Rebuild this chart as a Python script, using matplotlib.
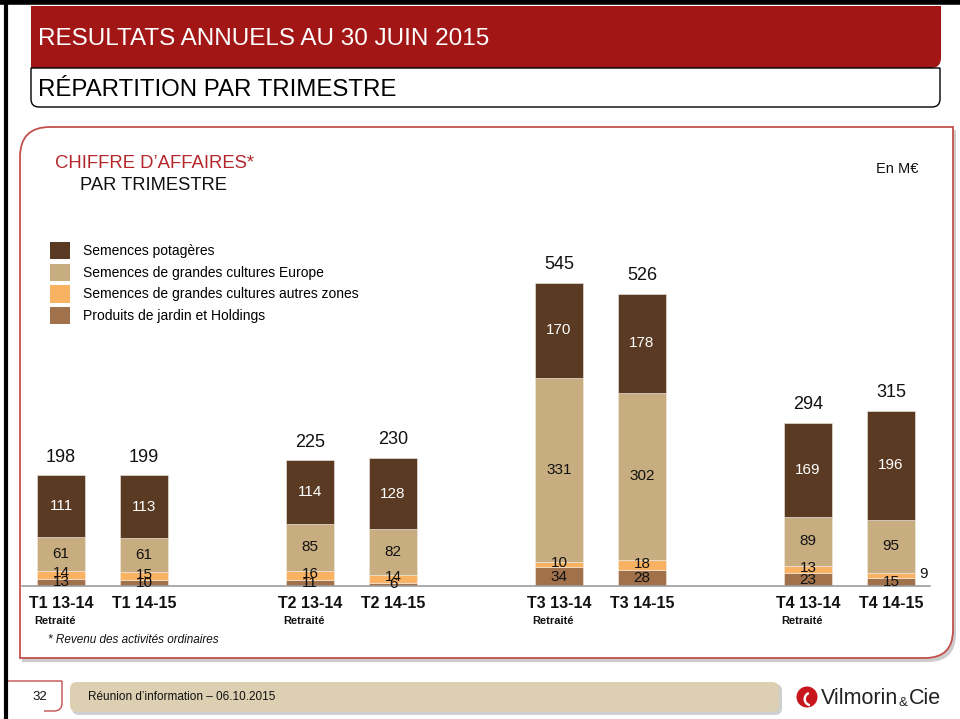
import numpy as np
import matplotlib
matplotlib.use('Agg')
import matplotlib.pyplot as plt
from matplotlib.path import Path
from matplotlib.patches import PathPatch, Patch, Circle, Wedge

plt.rcParams['font.family'] = ['Liberation Sans', 'DejaVu Sans']

# ---- data -------------------------------------------------------------
categories = ['T1 13-14', 'T1 14-15', 'T2 13-14', 'T2 14-15',
              'T3 13-14', 'T3 14-15', 'T4 13-14', 'T4 14-15']
sublabels = ['Retraité', '', 'Retraité', '', 'Retraité', '', 'Retraité', '']
totals = [198, 199, 225, 230, 545, 526, 294, 315]

series_names = ['Produits de jardin et Holdings',
                'Semences de grandes cultures autres zones',
                'Semences de grandes cultures Europe',
                'Semences potagères']
jardin   = [13, 10, 11, 6, 34, 28, 23, 15]
autres   = [14, 15, 16, 14, 10, 18, 13, 9]
europe   = [61, 61, 85, 82, 331, 302, 89, 95]
potageres = [111, 113, 114, 128, 170, 178, 169, 196]

# ---- style ------------------------------------------------------------
red      = '#A31616'
panelred = '#C4504E'
colors   = ['#A0714A', '#F9B262', '#C8AD80', '#5A3A22']
labcols  = ['#111111', '#111111', '#111111', 'white']
txtcol   = '#111111'


def rrect(x0, y0, x1, y1, tl=0, tr=0, br=0, bl=0):
    """Rounded rectangle in pixel coords (y down), radius per corner."""
    v = [(x0 + tl, y0), (x1 - tr, y0), (x1, y0), (x1, y0 + tr),
         (x1, y1 - br), (x1, y1), (x1 - br, y1),
         (x0 + bl, y1), (x0, y1), (x0, y1 - bl),
         (x0, y0 + tl), (x0, y0), (x0 + tl, y0), (x0 + tl, y0)]
    c = [Path.MOVETO, Path.LINETO, Path.CURVE3, Path.CURVE3,
         Path.LINETO, Path.CURVE3, Path.CURVE3,
         Path.LINETO, Path.CURVE3, Path.CURVE3,
         Path.LINETO, Path.CURVE3, Path.CURVE3, Path.CLOSEPOLY]
    return Path(v, c)


fig = plt.figure(figsize=(9.6, 7.19), dpi=100)
fig.patch.set_facecolor('white')

# background / slide furniture in pixel coordinates
bg = fig.add_axes([0, 0, 1, 1])
bg.set_xlim(0, 960)
bg.set_ylim(719, 0)
bg.axis('off')

bg.plot([0, 960], [2, 2], color='black', lw=4, solid_capstyle='butt')
bg.plot([5.5, 5.5], [0, 719], color='black', lw=3, solid_capstyle='butt')

# header bars
bg.add_patch(PathPatch(rrect(31, 6, 941, 68, br=10), facecolor=red,
                       edgecolor='none'))
bg.add_patch(PathPatch(rrect(31, 68, 940, 107, br=8, bl=8),
                       facecolor='white', edgecolor='black', lw=1))
bg.text(38, 39, 'RESULTATS ANNUELS AU 30 JUIN 2015', color='white',
        fontsize=17.5, va='center', ha='left')
bg.text(38, 90, 'RÉPARTITION PAR TRIMESTRE', color='black',
        fontsize=17.3, va='center', ha='left')

# main panel with a soft shadow
bg.add_patch(PathPatch(rrect(22, 130, 956, 662, tl=30, br=28),
                       facecolor='#9a9a9a', edgecolor='none', alpha=0.5))
bg.add_patch(PathPatch(rrect(20, 127, 953, 658, tl=30, br=28),
                       facecolor='white', edgecolor=panelred, lw=1.3))

bg.text(55, 163, 'CHIFFRE D’AFFAIRES*', color='#B5262B', fontsize=13.3,
        va='center')
bg.text(80, 186, 'PAR TRIMESTRE', color=txtcol, fontsize=13.2, va='center')
bg.text(876, 169, 'En M€', color=txtcol, fontsize=10.5, va='center')
bg.text(48, 640, '* Revenu des activités ordinaires', color=txtcol,
        fontsize=8.5, style='italic', va='center')

# footer
pn = Path([(7, 681), (62, 681), (62, 703), (62, 711), (54, 711), (44, 711)],
          [Path.MOVETO, Path.LINETO, Path.LINETO, Path.CURVE3, Path.CURVE3,
           Path.LINETO])
bg.add_patch(PathPatch(pn, facecolor='none', edgecolor=panelred, lw=1))
bg.text(40, 697, '32', color=txtcol, fontsize=9.5, ha='center', va='center')
bg.add_patch(PathPatch(rrect(72, 684, 782, 715, tl=7, tr=7, br=7, bl=7),
                       facecolor='#a0a0a0', edgecolor='none', alpha=0.5))
bg.add_patch(PathPatch(rrect(70, 682, 779, 712, tl=7, tr=7, br=7, bl=7),
                       facecolor='#DDCFB1', edgecolor='none'))
bg.text(88, 697, 'Réunion d’information – 06.10.2015', color=txtcol,
        fontsize=8.5, va='center')

# logo
bg.add_patch(Circle((807, 697), 10.5, facecolor='#C8161D', edgecolor='none'))
bg.add_patch(Wedge((811, 699), 7.5, 100, 250, width=2.4, facecolor='white',
                   edgecolor='none'))
t1 = bg.text(821, 704, 'Vilmorin', color='#222222', fontsize=15.5,
             va='baseline')
t2 = bg.annotate('&', xy=(1, 0), xycoords=t1, xytext=(0.5, 0),
                 textcoords='offset points', color='#222222', fontsize=9.5,
                 va='bottom')
bg.annotate('Cie', xy=(1, 0), xycoords=t2, xytext=(0.5, 0),
            textcoords='offset points', color='#222222', fontsize=15.5,
            va='bottom')

# ---- chart --------------------------------------------------------------
ax = fig.add_axes([22 / 960, 133 / 719, 908 / 960, 333 / 719])
ax.set_facecolor('none')
x = np.array([i + i // 2 for i in range(len(categories))])
width = 0.57

stack = [jardin, autres, europe, potageres]
bottom = np.zeros(len(categories))
for vals, col, lc, name in zip(stack, colors, labcols, series_names):
    vals = np.array(vals)
    ax.bar(x, vals, width, bottom=bottom, color=col, edgecolor='#f3ece2',
           linewidth=0.4, label=name)
    for xi, b, v in zip(x, bottom, vals):
        if name.endswith('autres zones') and v < 10:
            ax.text(xi + width / 2 + 0.05, b + v / 2 + 2, str(v), ha='left',
                    va='center', fontsize=11, color=txtcol)
        else:
            yc = b + v / 2
            if v < 20 and b > 0:
                yc += 3
            ax.text(xi, yc, str(v), ha='center', va='center', fontsize=11,
                    color=lc)
    bottom += vals

for xi, top, t in zip(x, bottom, totals):
    ax.annotate(str(t), (xi, top), xytext=(0, 7), textcoords='offset points',
                ha='center', va='bottom', fontsize=13, color=txtcol)

ax.set_xlim(-0.47, 10.47)
ax.set_ylim(0, 599)
ax.set_xticks(x, categories, fontweight='bold', fontsize=11.5)
ax.tick_params(axis='x', length=0, pad=7, colors=txtcol)
ax.set_yticks([])
for s in ['top', 'right', 'left']:
    ax.spines[s].set_visible(False)
ax.spines['bottom'].set_color('#9c9c9c')
ax.spines['bottom'].set_linewidth(1.2)

for xi, s in zip(x, sublabels):
    if s:
        ax.text(xi - 0.07, -0.105, s, transform=ax.get_xaxis_transform(),
                ha='center', va='center', fontsize=8, fontweight='bold',
                color=txtcol)

handles = [Patch(facecolor=c) for c in colors[::-1]]
ax.legend(handles, series_names[::-1], loc='upper left',
          bbox_to_anchor=(50 / 960, 1 - 242 / 719),
          bbox_transform=fig.transFigure, frameon=False, fontsize=10,
          borderpad=0, borderaxespad=0, handlelength=1.44, handleheight=1.55,
          handletextpad=0.93, labelspacing=0.3)

fig.savefig('out.png', dpi=100, facecolor='white')
